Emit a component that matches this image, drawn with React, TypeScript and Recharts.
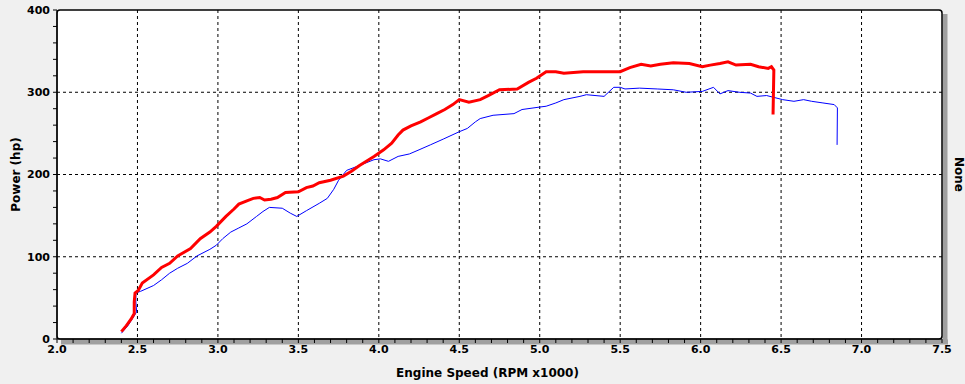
import { LineChart, Line, XAxis, YAxis, CartesianGrid, ReferenceArea } from "recharts";

// engine speed (RPM x1000) / power (hp) pairs
const redRpm = [
  2.4, 2.43, 2.46, 2.48, 2.48, 2.485, 2.505, 2.53, 2.6, 2.65, 2.7, 2.75, 2.83, 2.89, 2.95, 2.99,
  3.05, 3.1, 3.13, 3.18, 3.22, 3.26, 3.29, 3.33, 3.37, 3.42, 3.5, 3.55, 3.59, 3.63, 3.7, 3.78,
  3.83, 3.88, 3.93, 3.97, 4.03, 4.08, 4.12, 4.15, 4.2, 4.26, 4.31, 4.36, 4.41, 4.46, 4.5, 4.56,
  4.63, 4.68, 4.75, 4.86, 4.93, 4.98, 5.04, 5.1, 5.15, 5.27, 5.4, 5.5, 5.56, 5.63, 5.69, 5.75,
  5.83, 5.93, 6.01, 6.06, 6.12, 6.17, 6.22, 6.31, 6.36, 6.42, 6.44, 6.455, 6.45,
];
const redHp = [
  9, 16, 24, 31, 45, 56, 59, 68, 78, 87, 92, 101, 110, 122, 130, 137,
  149, 158, 164, 168, 171, 172, 169, 170, 172, 178, 179, 184, 186, 190, 193, 198,
  204, 211, 217, 222, 230, 238, 248, 254, 259, 264, 269, 274, 279, 285, 291, 288,
  291, 296, 303, 304, 312, 317, 325, 325, 323, 325, 325, 325, 330, 334, 332, 334,
  336, 335, 331, 333, 335, 337, 333, 334, 331, 329, 331, 327, 273,
];

const blueRpm = [
  2.4, 2.44, 2.47, 2.495, 2.49, 2.49, 2.52, 2.6, 2.65, 2.7, 2.75, 2.81, 2.87, 2.95, 2.99, 3.03,
  3.08, 3.13, 3.18, 3.24, 3.28, 3.32, 3.4, 3.45, 3.49, 3.55, 3.63, 3.68, 3.72, 3.75, 3.8, 3.88,
  3.97, 4.01, 4.06, 4.12, 4.19, 4.25, 4.32, 4.4, 4.5, 4.55, 4.6, 4.63, 4.71, 4.84, 4.89, 5.0,
  5.04, 5.1, 5.15, 5.25, 5.29, 5.4, 5.46, 5.5, 5.53, 5.62, 5.73, 5.83, 5.91, 6.01, 6.08, 6.12,
  6.17, 6.24, 6.31, 6.35, 6.41, 6.45, 6.51, 6.58, 6.64, 6.69, 6.76, 6.83, 6.85, 6.848,
];
const blueHp = [
  7, 16, 25, 33, 45, 56, 58, 65, 72, 80, 86, 92, 101, 109, 114, 122,
  130, 135, 140, 149, 155, 160, 159, 153, 149, 156, 165, 171, 182, 193, 205, 211,
  218, 219, 216, 222, 225, 230, 236, 243, 252, 256, 264, 268, 272, 274, 279, 282,
  283, 287, 291, 295, 297, 295, 306, 306, 304, 305, 304, 303, 300, 301, 306, 298,
  302, 300, 299, 295, 296, 294, 291, 289, 291, 289, 287, 285, 281, 236,
];

const xMajor = [2.0, 2.5, 3.0, 3.5, 4.0, 4.5, 5.0, 5.5, 6.0, 6.5, 7.0, 7.5];
const yMajor = [0, 100, 200, 300, 400];
const xMinor = Array.from({ length: 56 }, (_, i) => Math.round((2 + i * 0.1) * 10) / 10);
const yMinor = Array.from({ length: 21 }, (_, i) => i * 20);

const redData = redRpm.map((rpm, i) => ({ rpm, hp: redHp[i] }));
const blueData = blueRpm.map((rpm, i) => ({ rpm, hp: blueHp[i] }));

const FONT = "'DejaVu Sans', Verdana, sans-serif";
const tickStyle = { fill: "#000", fontSize: 11, fontWeight: 700, fontFamily: FONT };

// plot frame: rounded black border plus grey drop shadow to the right and below
function renderFrame(props: any) {
  const { x, y, width, height } = props;
  return (
    <g>
      <rect x={x + width + 0.5} y={y + 4} width={5} height={height + 1} fill="#a0a0a0" />
      <rect x={x + 4} y={y + height + 0.5} width={width + 2} height={5} fill="#a0a0a0" />
      <rect x={x} y={y} width={width} height={height} rx={3} fill="none" stroke="#000" strokeWidth={1.5} />
    </g>
  );
}

export default function App() {
  return (
    <div
      style={{
        position: "absolute",
        left: 0,
        top: 0,
        width: 965,
        height: 384,
        background: "#f0f0f0",
        fontFamily: FONT,
      }}
    >
      <LineChart width={965} height={384} margin={{ top: 10, right: 0, bottom: 0, left: 0 }}>
        <CartesianGrid
          yAxisId="left"
          fill="#fff"
          stroke="#000"
          strokeDasharray="3 3"
          horizontalValues={[100, 200, 300]}
          verticalValues={xMajor.slice(1, -1)}
        />
        <ReferenceArea
          yAxisId="left"
          x1={2}
          x2={7.5}
          y1={0}
          y2={400}
          ifOverflow="visible"
          fillOpacity={1}
          shape={renderFrame}
        />
        <XAxis
          type="number"
          dataKey="rpm"
          domain={[2, 7.5]}
          ticks={xMinor}
          interval={0}
          height={45}
          tickSize={4}
          tickMargin={2}
          stroke="#000"
          tick={tickStyle}
          tickFormatter={(v: number) => (xMajor.some((m) => Math.abs(m - v) < 1e-6) ? v.toFixed(1) : "")}
          label={{
            content: ({ viewBox }: any) => (
              <text
                x={viewBox.x + viewBox.width / 2 - 12}
                y={viewBox.y + 38}
                textAnchor="middle"
                fontSize={12}
                fontWeight={700}
                fontFamily={FONT}
                fill="#000"
              >
                Engine Speed (RPM x1000)
              </text>
            ),
          }}
        />
        <YAxis
          yAxisId="left"
          type="number"
          domain={[0, 400]}
          ticks={yMinor}
          interval={0}
          width={57}
          tickSize={4}
          tickMargin={3}
          stroke="#000"
          tick={tickStyle}
          tickFormatter={(v: number) => (yMajor.includes(v) ? String(v) : "")}
          label={{
            content: ({ viewBox }: any) => {
              const cx = 16;
              const cy = viewBox.y + viewBox.height / 2;
              return (
                <text
                  x={cx}
                  y={cy}
                  transform={`rotate(-90 ${cx} ${cy})`}
                  textAnchor="middle"
                  dominantBaseline="central"
                  fontSize={12}
                  fontWeight={700}
                  fontFamily={FONT}
                  fill="#000"
                >
                  Power (hp)
                </text>
              );
            },
          }}
        />
        <YAxis
          yAxisId="right"
          orientation="right"
          width={23}
          tick={false}
          tickLine={false}
          axisLine={false}
          label={{
            content: ({ viewBox }: any) => {
              const cx = viewBox.x + 17;
              const cy = viewBox.y + viewBox.height / 2;
              return (
                <text
                  x={cx}
                  y={cy}
                  transform={`rotate(90 ${cx} ${cy})`}
                  textAnchor="middle"
                  dominantBaseline="central"
                  fontSize={12}
                  fontWeight={700}
                  fontFamily={FONT}
                  fill="#000"
                >
                  None
                </text>
              );
            },
          }}
        />
        <Line
          yAxisId="left"
          data={blueData}
          dataKey="hp"
          type="linear"
          stroke="#0000ff"
          strokeWidth={1}
          dot={false}
          activeDot={false}
          isAnimationActive={false}
        />
        <Line
          yAxisId="left"
          data={redData}
          dataKey="hp"
          type="linear"
          stroke="#ff0000"
          strokeWidth={3}
          dot={false}
          activeDot={false}
          isAnimationActive={false}
        />
      </LineChart>
    </div>
  );
}
